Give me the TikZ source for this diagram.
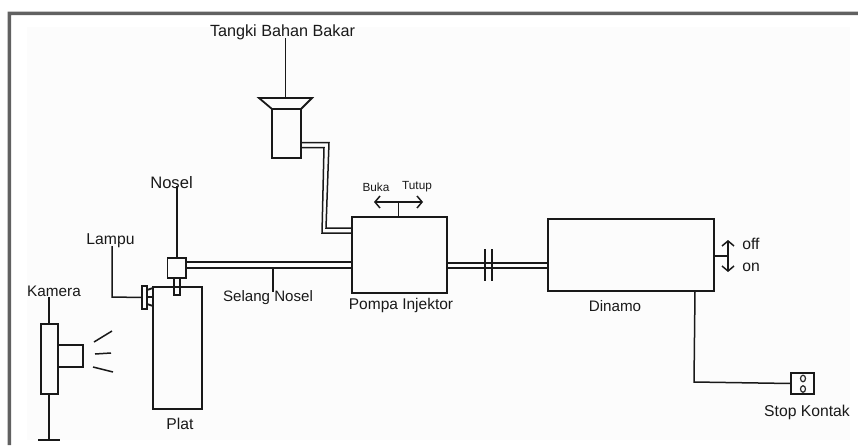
\documentclass[tikz,border=0pt]{standalone}
\usepackage{fontspec}
\setmainfont{Liberation Sans}
\usetikzlibrary{arrows.meta,shapes.geometric}
\tikzset{
  ln/.style={draw=black!90,line width=1.8pt,line join=miter},
  thin ln/.style={draw=black!90,line width=1.5pt},
  lbl/.style={inner sep=0pt,font=\fontsize{15.7}{18}\selectfont,text=black!90},
  small lbl/.style={inner sep=0pt,font=\fontsize{11.8}{14}\selectfont,text=black!90},
  openarrows/.style={{Straight Barb[length=5pt,width=12pt,line width=1.5pt]}-{Straight Barb[length=5pt,width=12pt,line width=1.5pt]}},
  part/.style={ln,rectangle,inner sep=0pt,outer sep=0pt,minimum width=0pt,minimum height=0pt,anchor=north west},
  socket/.style={draw=black!85,line width=1.2pt,ellipse,inner sep=0pt,outer sep=0pt,minimum width=5pt,minimum height=6.5pt}
}
\begin{document}
\begin{tikzpicture}[x=1pt,y=-1pt]
\useasboundingbox (0,0) rectangle (858,445);
\fill[white] (0,0) rectangle (858,445);
\fill[black!1] (27,27) rectangle (850,440);
\fill[black!62] (7.5,11.5) rectangle (858,15) (7.5,11.5) rectangle (11,445);

% parts
\node[part,minimum width=95pt,minimum height=76pt] (pump) at (352,217) {};
\node[part,minimum width=166pt,minimum height=72pt] (dyn) at (548,219) {};
\node[part,minimum width=49pt,minimum height=122pt] (plate) at (153,287) {};
\node[part,minimum width=18.5pt,minimum height=20pt] (noz) at (167.5,258) {};
\node[part,minimum width=6pt,minimum height=17pt] (stem) at (174,278) {};
\node[part,minimum width=5pt,minimum height=23pt] (lamp) at (142,286) {};
\node[part,minimum width=17pt,minimum height=70pt] (cam) at (41,324) {};
\node[part,minimum width=25pt,minimum height=22pt] (lens) at (58,345) {};
\node[part,thin ln,minimum width=23pt,minimum height=21pt] (stop) at (791,373) {};
\node[part,minimum width=29pt,minimum height=49pt] (tank) at (272,109) {};

% labels
\node[lbl,font=\fontsize{16.2}{18}\selectfont] (ltank) at (282.5,32) {Tangki Bahan Bakar};
\node[lbl,font=\fontsize{16.6}{18}\selectfont] (lnoz) at (171.5,183) {Nosel};
\node[lbl] (llamp) at (110.5,241) {Lampu};
\node[lbl,font=\fontsize{15.3}{18}\selectfont] (lcam) at (54,291) {Kamera};
\node[lbl,font=\fontsize{15.1}{18}\selectfont] (lhose) at (268,298) {Selang Nosel};
\node[lbl] (lplate) at (180,424) {Plat};
\node[lbl,font=\fontsize{15.5}{18}\selectfont] (lpump) at (401,305) {Pompa Injektor};
\node[lbl,font=\fontsize{15.2}{18}\selectfont] (ldyn) at (615,306) {Dinamo};
\node[lbl] (lstop) at (807,412) {Stop Kontak};
\node[lbl] (loff) at (751,244) {off};
\node[lbl] (lon) at (751,267) {on};
\node[small lbl] (lopen) at (376,187) {Buka};
\node[small lbl] (lclose) at (417,187) {Tutup};

% tank funnel and leader
\coordinate (fl) at (259,98); \coordinate (fr) at (312,98);
\draw[ln] (tank.north west) -- (fl) -- (fr) -- (tank.north east);
\coordinate (ftop) at (285.5,98);
\draw[thin ln] (285.5,38) -- (ftop);

% fuel line
\coordinate (a1) at (301,142.5); \coordinate (a2) at (301,147.5);
\coordinate (b1) at (352,228); \coordinate (b2) at (352,233);
\draw[thin ln] (a1) -- (329,142.5) -- (326,228) -- (b1);
\draw[thin ln] (a2) -- (324,147.5) -- (322,233) -- (b2);

% valve lever
\coordinate (vk) at (398.5,202);
\draw[thin ln] (398.5,217) -- (vk);
\draw[thin ln,openarrows] (374,202) -- (423,202);

% nozzle hose
\draw[thin ln] (186,262) -- (352,262);
\draw[thin ln] (186,268) -- (352,268);
\draw[thin ln] (273,268) -- (273,292);
\draw[thin ln] (177,186) -- (177,258);

% lamp
\draw[thin ln] (112,246) -- (112,297) -- (lamp.west);
\draw[ln] (147,290) -- (153,288) (147,304) -- (153,306) (147,297) -- (153,297);

% camera
\draw[thin ln] (49,297) -- (49,324);
\coordinate (foot) at (49,440);
\draw[thin ln] (49,394) -- (foot);
\draw[thin ln] (38,440) -- (60,440);
\draw[thin ln] (94,342) -- (112,331);
\draw[thin ln] (95,354) -- (111,353);
\draw[thin ln] (93,367) -- (113,372);

% shaft
\draw[thin ln] (447,263) -- (548,263);
\draw[thin ln] (447,268) -- (548,268);
\draw[thin ln] (485,249) -- (485,281);
\draw[thin ln] (492,249) -- (492,281);

% switch
\draw[thin ln] (714,256) -- (728,256);
\draw[thin ln,openarrows] (728,240) -- (728,272);

% power line
\draw[thin ln] (695,291) -- (694,382) -- (stop.west);
\node[socket] (s1) at (803,378.5) {};
\node[socket] (s2) at (803,389) {};
\end{tikzpicture}
\end{document}
